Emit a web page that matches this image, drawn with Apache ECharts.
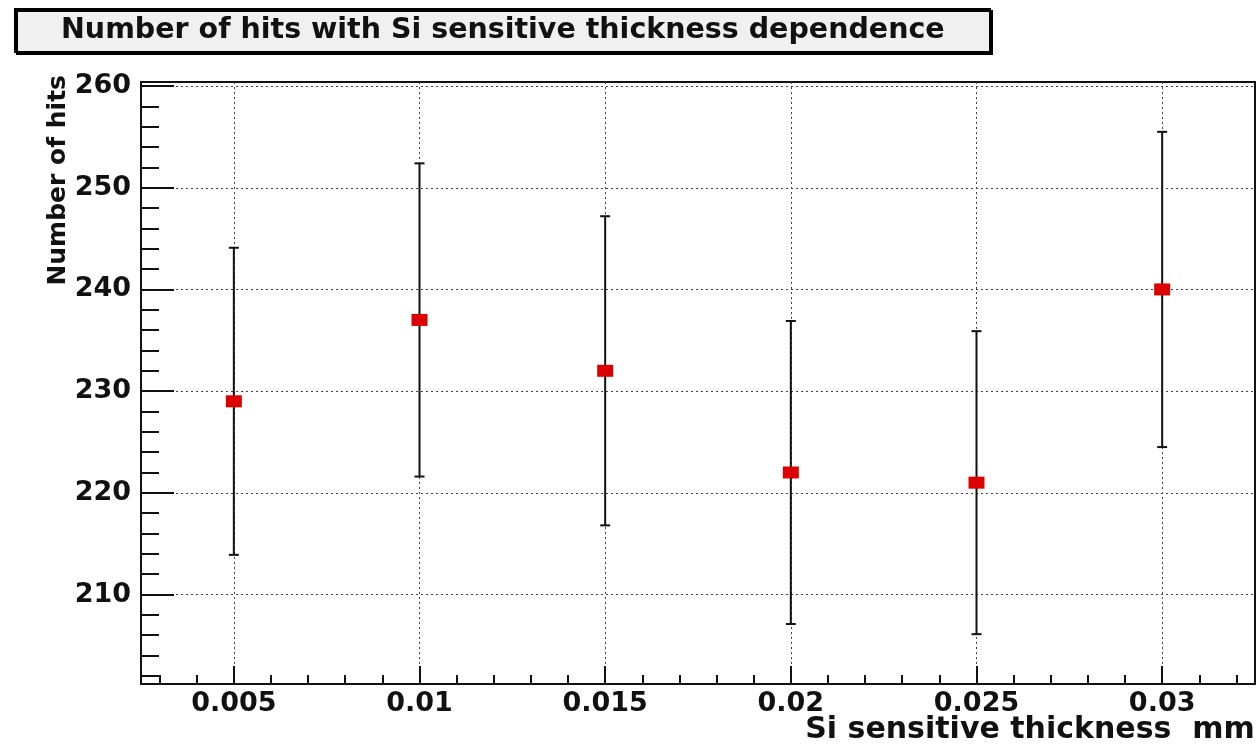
<!DOCTYPE html>
<html>
<head>
<meta charset="utf-8">
<script src="https://cdn.jsdelivr.net/npm/echarts@6/dist/echarts.min.js"></script>
<style>
  html, body { margin: 0; padding: 0; background: #fff; }
  #chart { width: 1259px; height: 750px; }
</style>
</head>
<body>
<div id="chart"></div>
<script>
// Si thickness scan
const thickness = [0.005, 0.01, 0.015, 0.02, 0.025, 0.03]
const hits = [229, 237, 232, 222, 221, 240]
const hitErr = [15.1, 15.4, 15.2, 14.9, 14.9, 15.5]

const xRange = [0.0025, 0.0325]
const yRange = [201.2, 260.4]
const xMajor = [0.005, 0.01, 0.015, 0.02, 0.025, 0.03]
const yMajor = [210, 220, 230, 240, 250, 260]

const xMinor = []
for (let i = 3; i <= 32; i++) xMinor.push(+(i * 0.001).toFixed(3))
const yMinor = []
for (let v = 202; v <= 260; v += 2) yMinor.push(v)

const font = 'DejaVu Sans'
const chart = echarts.init(document.getElementById('chart'))

const errData = thickness.map((x, i) => [x, hits[i] - hitErr[i], hits[i] + hitErr[i]])

function renderErr (params, api) {
  const lo = api.coord([api.value(0), api.value(1)])
  const hi = api.coord([api.value(0), api.value(2)])
  const cap = 5
  const style = { stroke: '#111', lineWidth: 2 }
  return {
    type: 'group',
    children: [
      { type: 'line', shape: { x1: lo[0], y1: lo[1], x2: hi[0], y2: hi[1] }, style },
      { type: 'line', shape: { x1: lo[0] - cap, y1: lo[1], x2: lo[0] + cap, y2: lo[1] }, style },
      { type: 'line', shape: { x1: hi[0] - cap, y1: hi[1], x2: hi[0] + cap, y2: hi[1] }, style }
    ]
  }
}

const gridLine = { show: true, lineStyle: { color: '#444', type: [2, 3], width: 1 } }

chart.setOption({
  animation: false,
  backgroundColor: '#fff',
  title: {
    text: 'Number of hits with Si sensitive thickness dependence',
    left: 15,
    top: 9,
    padding: [7, 46, 7, 46],
    backgroundColor: '#f0f0f0',
    borderColor: '#000',
    borderWidth: 2,
    shadowColor: '#000',
    shadowOffsetX: 2,
    shadowOffsetY: 2,
    textStyle: { fontFamily: font, fontWeight: 'bold', fontSize: 28.5, color: '#111' }
  },
  grid: {
    left: 141,
    right: 4,
    top: 82,
    bottom: 66,
    containLabel: false,
    outerBoundsMode: 'none',
    show: true,
    borderColor: '#111',
    borderWidth: 2,
    backgroundColor: '#fff'
  },
  xAxis: [
    {
      type: 'value',
      min: xRange[0],
      max: xRange[1],
      name: 'Si sensitive thickness  mm',
      nameLocation: 'middle',
      nameGap: 31,
      nameMoveOverlap: false,
      nameTextStyle: {
        fontFamily: font, fontWeight: 'bold', fontSize: 30, color: '#111',
        padding: [0, 0, 0, 664]
      },
      axisLine: { show: true, onZero: false, lineStyle: { color: '#111', width: 2 } },
      axisTick: { show: true, inside: true, length: 18, lineStyle: { color: '#111', width: 2 }, customValues: xMajor },
      axisLabel: {
        customValues: xMajor, margin: 6,
        fontFamily: font, fontWeight: 'bold', fontSize: 27, color: '#111'
      },
      splitLine: gridLine
    },
    {
      type: 'value',
      min: xRange[0],
      max: xRange[1],
      position: 'bottom',
      axisLine: { show: false },
      axisTick: { show: true, inside: true, length: 9, lineStyle: { color: '#111', width: 2 }, customValues: xMinor },
      axisLabel: { show: false },
      splitLine: { show: false }
    }
  ],
  yAxis: [
    {
      type: 'value',
      min: yRange[0],
      max: yRange[1],
      name: 'Number of hits',
      nameLocation: 'end',
      nameGap: 7,
      nameRotate: 90,
      nameMoveOverlap: false,
      nameTextStyle: {
        fontFamily: font, fontWeight: 'bold', fontSize: 25, color: '#111',
        align: 'right', verticalAlign: 'bottom', padding: [0, 0, 70, 0]
      },
      axisLine: { show: true, onZero: false, lineStyle: { color: '#111', width: 2 } },
      axisTick: { show: true, inside: true, length: 33, lineStyle: { color: '#111', width: 2 }, customValues: yMajor },
      axisLabel: {
        customValues: yMajor, margin: 10,
        fontFamily: font, fontWeight: 'bold', fontSize: 27, color: '#111'
      },
      splitLine: gridLine
    },
    {
      type: 'value',
      min: yRange[0],
      max: yRange[1],
      position: 'left',
      axisLine: { show: false },
      axisTick: { show: true, inside: true, length: 18, lineStyle: { color: '#111', width: 2 }, customValues: yMinor },
      axisLabel: { show: false },
      splitLine: { show: false }
    }
  ],
  series: [
    {
      type: 'custom',
      name: 'error',
      renderItem: renderErr,
      data: errData,
      encode: { x: 0, y: [1, 2] },
      z: 3
    },
    {
      type: 'scatter',
      name: 'hits',
      data: thickness.map((x, i) => [x, hits[i]]),
      symbol: 'rect',
      symbolSize: [16, 12],
      itemStyle: { color: '#dd0000', opacity: 1 },
      z: 4
    }
  ]
})
</script>
</body>
</html>
